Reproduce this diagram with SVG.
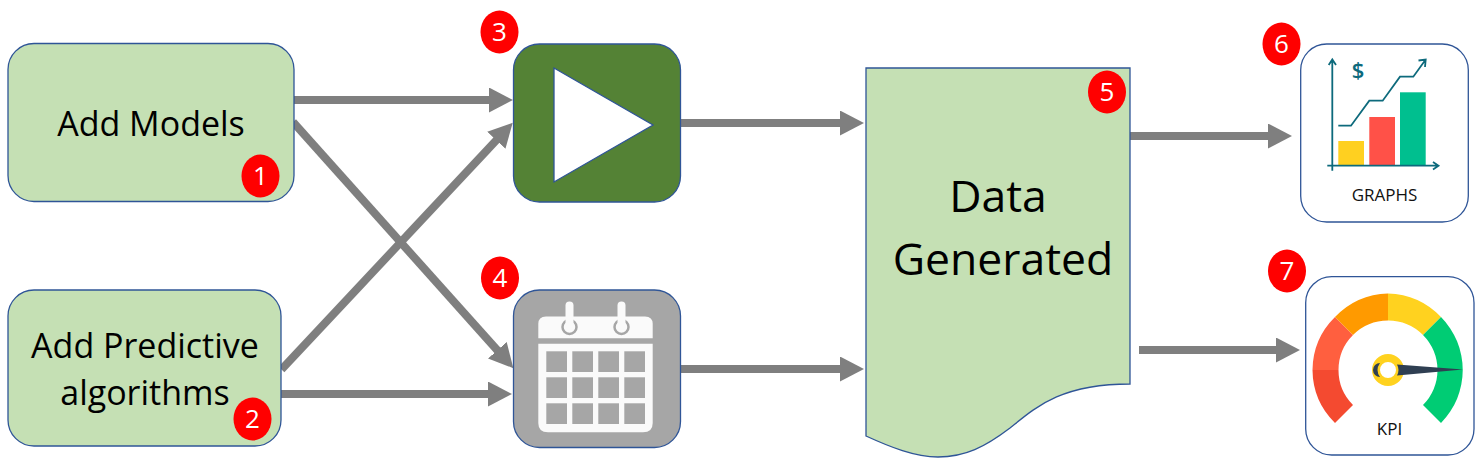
<svg xmlns="http://www.w3.org/2000/svg" width="1484" height="468" viewBox="0 0 1484 468">
<style>
text{font-family:"Open Sans","Noto Sans","DejaVu Sans",sans-serif;text-anchor:middle}
.b{stroke:#2f5597;stroke-width:1.3}
.g{fill:#c5e0b4}
.l{font-size:34px;fill:#000}
.bd{fill:#ff0000}
.n{font-size:26px;fill:#fff}
.c{stroke:#7f7f7f;stroke-width:8;fill:none;marker-end:url(#a)}
.s{font-size:17px;fill:#111}
.w{fill:#fafafa}
.h{fill:#a6a6a6}
</style>
<defs>
<marker id="a" markerUnits="userSpaceOnUse" markerWidth="26" markerHeight="26" refX="1" refY="12.500" orient="auto">
<path d="M0 0L24 12.500L0 25Z" fill="#7f7f7f"/>
</marker>
</defs>
<rect width="1484" height="468" fill="#fff"/>
<g id="connectors">
<path class="c" d="M294 100H490"/>
<path class="c" d="M293 122L498 351"/>
<path class="c" d="M281.500 369.500L497 139.500"/>
<path class="c" d="M281 394H489"/>
<path class="c" d="M681 123H841"/>
<path class="c" d="M681 369H841"/>
<path class="c" d="M1130 136H1269"/>
<path class="c" d="M1139 350H1277"/>
</g>
<g id="node1">
<rect class="b g" x="8" y="43.500" width="286" height="158" rx="26"/>
<text class="l" x="151" y="136">Add Models</text>
<ellipse class="bd" cx="260.500" cy="176" rx="19" ry="21.500"/>
<text class="n" x="260.500" y="185">1</text>
</g>
<g id="node2">
<rect class="b g" x="8" y="290" width="273" height="156" rx="26"/>
<text class="l" x="145" y="358">Add Predictive</text>
<text class="l" x="145" y="405">algorithms</text>
<ellipse class="bd" cx="252.500" cy="419" rx="19" ry="21.500"/>
<text class="n" x="252.500" y="428">2</text>
</g>
<g id="node3">
<rect class="b" fill="#548235" x="513.500" y="44" width="167" height="158" rx="26"/>
<path class="b" fill="#fff" d="M554 68L653 125L554 182Z"/>
<ellipse class="bd" cx="499.500" cy="32" rx="19" ry="21.500"/>
<text class="n" x="499.500" y="41">3</text>
</g>
<g id="node4">
<rect class="b h" x="513.500" y="290" width="167" height="157.500" rx="26"/>
<path class="w" d="M546 316.500H645Q652.700 316.500 652.700 324V338.300H538.300V324Q538.300 316.500 546 316.500Z"/>
<path class="w" d="M538.300 343.700H652.700V423Q652.700 432.300 643 432.300H548Q538.300 432.300 538.300 423Z"/>
<circle cx="569.500" cy="327" r="7" fill="none" stroke="#a6a6a6" stroke-width="2.500"/>
<circle cx="621.500" cy="327" r="7" fill="none" stroke="#a6a6a6" stroke-width="2.500"/>
<rect class="w" x="565.500" y="301.500" width="8" height="26" rx="4"/>
<rect class="w" x="617.500" y="301.500" width="8" height="26" rx="4"/>
<g class="h">
<rect x="546.300" y="351.300" width="20.700" height="20.700"/><rect x="572.300" y="351.300" width="20.700" height="20.700"/><rect x="598.300" y="351.300" width="20.700" height="20.700"/><rect x="624.300" y="351.300" width="20.700" height="20.700"/>
<rect x="546.300" y="377.300" width="20.700" height="20.700"/><rect x="572.300" y="377.300" width="20.700" height="20.700"/><rect x="598.300" y="377.300" width="20.700" height="20.700"/><rect x="624.300" y="377.300" width="20.700" height="20.700"/>
<rect x="546.300" y="403.300" width="20.700" height="20.700"/><rect x="572.300" y="403.300" width="20.700" height="20.700"/><rect x="598.300" y="403.300" width="20.700" height="20.700"/><rect x="624.300" y="403.300" width="20.700" height="20.700"/>
</g>
<ellipse class="bd" cx="500" cy="278" rx="19" ry="21.500"/>
<text class="n" x="500" y="287">4</text>
</g>
<g id="node5">
<path class="b g" d="M866 68H1130V384C1060 384 1035 408 1010 428C985 447 965 457 938 457C915 457 890 447 866 436Z"/>
<text x="998" y="212" style="font-size:44.500px" fill="#000">Data</text>
<text x="1003" y="275" style="font-size:44.500px" fill="#000">Generated</text>
<ellipse class="bd" cx="1107" cy="92" rx="19" ry="21.500"/>
<text class="n" x="1107" y="101">5</text>
</g>
<g id="node6">
<rect class="b" fill="#fff" x="1300.700" y="44" width="167.600" height="178" rx="26"/>
<rect x="1338.300" y="141" width="25.700" height="24" fill="#ffd020"/>
<rect x="1369.300" y="117" width="25.700" height="48" fill="#ff5148"/>
<rect x="1400" y="92.300" width="25.700" height="72.700" fill="#00bf8f"/>
<g fill="none" stroke="#0d6a7c" stroke-width="1.800">
<path d="M1332.300 170.700V60M1328.700 65L1332.300 59.500L1336 65"/>
<path d="M1327.300 165.700H1438M1433 162L1438.500 165.700L1433 169.500"/>
<path d="M1338.300 125.700H1351L1369.300 100.700H1382.700L1400 76.700H1413.300L1425 60.500M1418.500 60.500L1425.700 59.500L1425 67"/>
</g>
<text x="1358" y="78" style="font-size:22px;font-weight:600" fill="#0d6a7c">$</text>
<text class="s" x="1384.500" y="201">GRAPHS</text>
<ellipse class="bd" cx="1281.500" cy="44" rx="19" ry="21.500"/>
<text class="n" x="1281.500" y="53">6</text>
</g>
<g id="node7">
<rect class="b" fill="#fff" x="1305.700" y="276.700" width="168.300" height="178.300" rx="26"/>
<path fill="#f44a30" d="M1312.500 370H1338.500A49.500 49.500 0 0 0 1353 405L1335 423A75.500 75.500 0 0 1 1312.500 370Z"/>
<path fill="#ff5f3f" d="M1312.500 370H1338.500A49.500 49.500 0 0 1 1353 335L1335 317A75.500 75.500 0 0 0 1312.500 370Z"/>
<path fill="#ff9a00" d="M1335 317L1353 335A49.500 49.500 0 0 1 1388 320.500V293.500A76.500 76.500 0 0 0 1335 317Z"/>
<path fill="#ffd21f" d="M1388 293.500V320.500A49.500 49.500 0 0 1 1423 335L1441 317A76.500 76.500 0 0 0 1388 293.500Z"/>
<path fill="#00cc74" d="M1441 317L1423 335A49.500 49.500 0 0 1 1423 405L1441 423A75.500 75.500 0 0 0 1441 317Z"/>
<circle cx="1388" cy="370" r="12" fill="#fff" stroke="#ffd21f" stroke-width="8"/>
<path fill="#2f3f52" d="M1380 363A7 7 0 0 0 1380 377Q1375 370 1380 363Z"/>
<path fill="#2f3f52" d="M1397 364.500L1463 369.500L1397 375.500Q1400 370 1397 364.500Z"/>
<text class="s" x="1389.500" y="435">KPI</text>
<ellipse class="bd" cx="1287" cy="271" rx="19" ry="21.500"/>
<text class="n" x="1287" y="280">7</text>
</g>
</svg>
